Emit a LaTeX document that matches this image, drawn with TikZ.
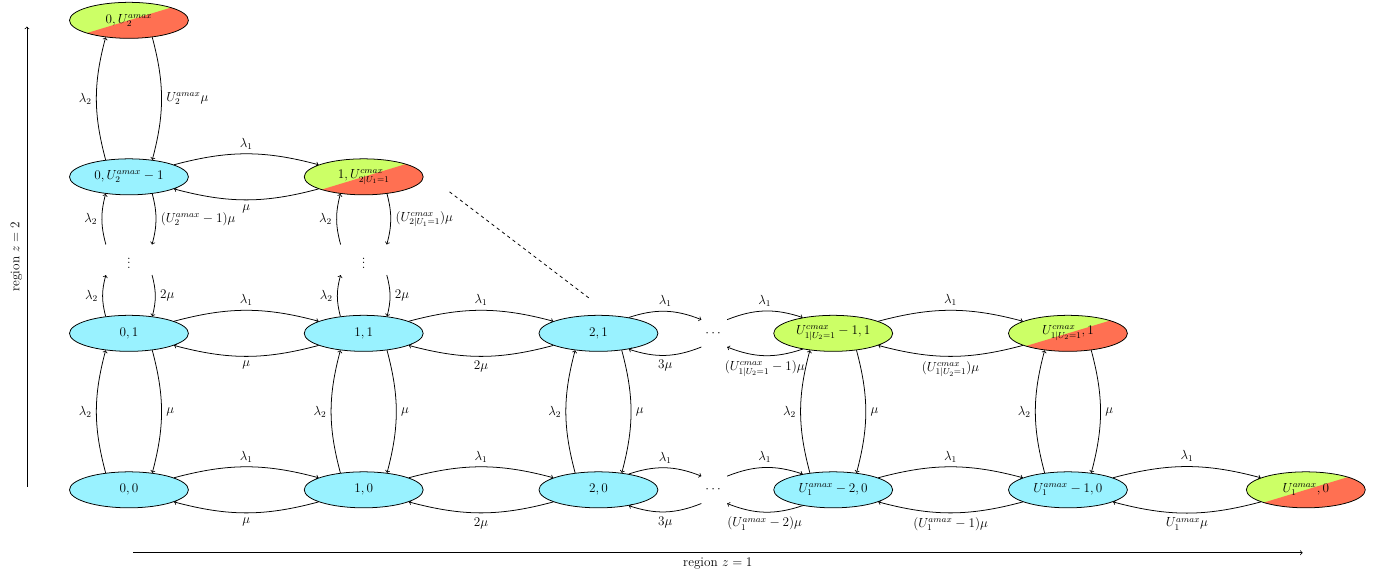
\documentclass[tikz,border=0pt,12pt]{standalone}
\usepackage{amsmath, amssymb}
\usepackage{tikz}
\usetikzlibrary{shapes.geometric}

\definecolor{stateblue}{RGB}{153,242,255}
\definecolor{stategreen}{RGB}{204,255,102}
\definecolor{statered}{RGB}{255,112,82}

\tikzset{
	state/.style={draw, ellipse, minimum width=3.8cm, minimum height=1.15cm, inner sep=-1pt},
	blue state/.style={state, fill=stateblue},
	full state/.style={state, fill=stategreen},
	half state/.style={state, path picture={
		\fill [stategreen] (path picture bounding box.south west) rectangle (path picture bounding box.north east);
		\fill [statered] (path picture bounding box.south west) -- (path picture bounding box.north east) -- (path picture bounding box.south east) -- cycle;
	}},
	hdots/.style={inner sep=0pt, minimum width=0.8cm, minimum height=0.85cm},
	vdots/.style={inner sep=0pt, minimum width=1.45cm, minimum height=0.95cm},
}

\begin{document}
\begin{tikzpicture}[line width=0.7pt]
		\useasboundingbox (-4.12,-2.91) rectangle (40.13,15.65);
	
		% region z = 1
		\node [blue state] (s00) at (0,0) {$0,0$};
		\node [blue state] (s10) at (7.5,0) {$1,0$};
		\node [blue state] (s20) at (15,0) {$2,0$};
		\node [hdots] (h0) at (18.7,0) {$\cdots$};
		\node [blue state] (sa0) at (22.5,0) {$U_1^{amax}-2,0$};
		\node [blue state] (sb0) at (30,0) {$U_1^{amax}-1,0$};
		\node [half state] (sc0) at (37.6,0) {$U_1^{amax},0$};
	
		\node [blue state] (s01) at (0,5) {$0,1$};
		\node [blue state] (s11) at (7.5,5) {$1,1$};
		\node [blue state] (s21) at (15,5) {$2,1$};
		\node [hdots] (h1) at (18.7,5) {$\cdots$};
		\node [full state] (sa1) at (22.5,5) {$U^{cmax}_{1|U_2=1}-1,1$};
		\node [half state] (sb1) at (30,5) {$U^{cmax}_{1|U_2=1},1$};
	
		% region z = 2
		\node [vdots] (v0) at (0,7.35) {$\vdots$};
		\node [vdots] (v1) at (7.5,7.35) {$\vdots$};
		\node [blue state] (s02) at (0,10) {$0,U_2^{amax}-1$};
		\node [half state] (s12) at (7.5,10) {$1,U^{cmax}_{2|U_1=1}$};
		\node [half state] (s03) at (0,15) {$0,U_2^{amax}$};
	
		\foreach \a/\b/\down in {s00/s10/\mu, s10/s20/2\mu, sa0/sb0/(U_1^{amax}-1)\mu, sb0/sc0/U_1^{amax}\mu,
			s01/s11/\mu, s11/s21/2\mu, sa1/sb1/(U^{cmax}_{1|U_2=1})\mu, s02/s12/\mu}
		{
			\draw [->] (\a) to [bend left=15] node [above] {$\lambda_1$} (\b);
			\draw [->] (\b) to [bend left=15] node [below] {$\down$} (\a);
		}
	
		\draw [->] (s20) to [bend left=20] node [above] {$\lambda_1$} (h0.north west);
		\draw [->] (h0.south west) to [bend left=20] node [below] {$3\mu$} (s20);
		\draw [->] (h0.north east) to [bend left=20] node [above] {$\lambda_1$} (sa0);
		\draw [->] (sa0) to [bend left=20] node [below] {$(U_1^{amax}-2)\mu$} (h0.south east);
	
		\draw [->] (s21) to [bend left=20] node [above] {$\lambda_1$} (h1.north west);
		\draw [->] (h1.south west) to [bend left=20] node [below] {$3\mu$} (s21);
		\draw [->] (h1.north east) to [bend left=20] node [above] {$\lambda_1$} (sa1);
		\draw [->] (sa1) to [bend left=20] node [below] {$(U^{cmax}_{1|U_2=1}-1)\mu$} (h1.south east);
	
		\foreach \a/\b/\down in {s00/s01/\mu, s10/s11/\mu, s20/s21/\mu, sa0/sa1/\mu, sb0/sb1/\mu, s02/s03/U_2^{amax}\mu}
		{
			\draw [->] (\a.144) to [bend left=15] node [left] {$\lambda_2$} (\b.216);
			\draw [->] (\b.324) to [bend left=15] node [right] {$\down$} (\a.36);
		}
	
		\draw [->] (s01.144) to [bend left=15] node [left] {$\lambda_2$} (v0.south west);
		\draw [->] (v0.south east) to [bend left=15] node [right] {$2\mu$} (s01.36);
		\draw [->] (v0.north west) to [bend left=15] node [left] {$\lambda_2$} (s02.216);
		\draw [->] (s02.324) to [bend left=15] node [right] {$(U_2^{amax}-1)\mu$} (v0.north east);
	
		\draw [->] (s11.144) to [bend left=15] node [left] {$\lambda_2$} (v1.south west);
		\draw [->] (v1.south east) to [bend left=15] node [right] {$2\mu$} (s11.36);
		\draw [->] (v1.north west) to [bend left=15] node [left] {$\lambda_2$} (s12.216);
		\draw [->] (s12.324) to [bend left=15] node [right] {$(U^{cmax}_{2|U_1=1})\mu$} (v1.north east);
	
		\draw [dashed] ([shift={(0.83,-0.48)}]s12.east) -- ([shift={(-0.25,0.5)}]s21.north);
	
		% axes
		\coordinate (z1 start) at (0.13,-2.01);
		\coordinate (z1 end) at (37.5,-2.01);
		\draw [->] (z1 start) -- (z1 end) node [midway, below] {region $z=1$};
		\coordinate (z2 start) at (-3.26,0.1);
		\coordinate (z2 end) at (-3.26,14.8);
		\draw [->] (z2 start) -- (z2 end) node [midway, above, sloped] {region $z=2$};
	
	\end{tikzpicture}
\end{document}
